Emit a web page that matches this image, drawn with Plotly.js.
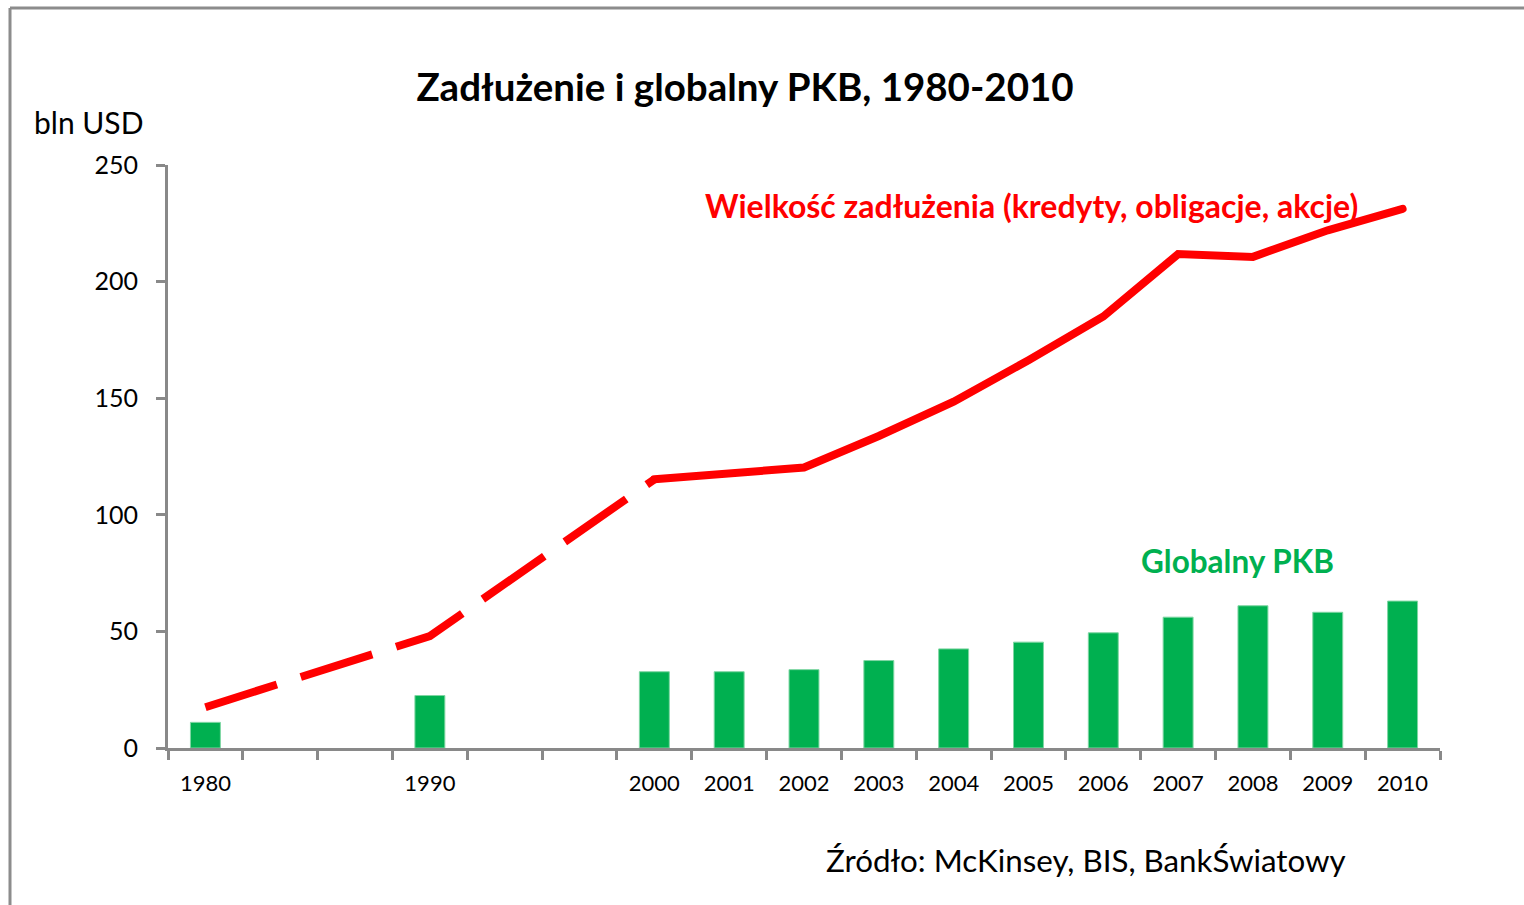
<!DOCTYPE html>
<html>
<head>
<meta charset="utf-8">
<script src="https://cdn.plot.ly/plotly-3.0.1.min.js"></script>
<style>
html, body { margin: 0; padding: 0; background: #fff; }
#chart { width: 1524px; height: 905px; }
</style>
</head>
<body>
<div id="chart"></div>
<script>
// Categories (blank slots keep the Excel spacing between 1980, 1990 and 2000)
var categories = ['1980', '', '', '1990', '', '', '2000', '2001', '2002', '2003', '2004', '2005', '2006', '2007', '2008', '2009', '2010'];
// Global GDP (bars), bln USD
var gdp = [11, null, null, 22.5, null, null, 32.7, 32.7, 33.6, 37.5, 42.5, 45.4, 49.4, 56.1, 61, 58.2, 63];
// Debt volume, dashed part (1980-2000)
var debtEarly = [17.5, null, null, 48, null, null, 115.2];
// Debt volume, solid part (2000-2010)
var debtLate = [null, null, null, null, null, null, 115.2, 117.8, 120.3, 133.8, 148.5, 166.3, 185, 211.8, 210.6, 222, 231.2];

var titleText = 'Zadłużenie i globalny PKB, 1980-2010';
var yUnit = 'bln USD';
var debtLabel = 'Wielkość zadłużenia (kredyty, obligacje, akcje)';
var gdpLabel = 'Globalny PKB';
var sourceText = 'Źródło: McKinsey, BIS, BankŚwiatowy';

var idx = categories.map(function (_, i) { return i; });
function pick(arr) {
  var xs = [], ys = [];
  arr.forEach(function (v, i) { if (v !== null) { xs.push(i); ys.push(v); } });
  return { x: xs, y: ys };
}
var g = pick(gdp), e = pick(debtEarly), l = pick(debtLate);

var FONT = 'Lato, "Open Sans", sans-serif';
var AX = '#898989';
var RED = '#FF0000';
var GREEN = '#00B050';

var traces = [
  { type: 'bar', x: g.x, y: g.y, width: 0.4, marker: { color: GREEN, line: { color: '#7fd6a3', width: 1 } }, hoverinfo: 'skip' },
  { type: 'scatter', mode: 'lines', x: e.x, y: e.y, line: { color: RED, width: 8, dash: '75px,25px' }, hoverinfo: 'skip' },
  { type: 'scatter', mode: 'lines', x: l.x, y: l.y, line: { color: RED, width: 8 }, hoverinfo: 'skip' }
];

var L = 168, R = 1440, T = 165, B = 748;
function px(p) { return (p - L) / (R - L); }
function py(p) { return (B - p) / (B - T); }

var boundaries = [];
for (var i = 0; i <= categories.length; i++) boundaries.push(i - 0.5);

var layout = {
  width: 1524, height: 905,
  margin: { l: L, r: 1524 - R, t: T, b: 905 - B, pad: 0 },
  paper_bgcolor: '#fff', plot_bgcolor: '#fff',
  showlegend: false,
  font: { family: FONT, color: '#000' },
  title: { text: '<b>' + titleText + '</b>', font: { family: FONT, size: 38.5, color: '#000' },
           x: 745 / 1524, xanchor: 'center', xref: 'container', y: 1 - 88 / 905, yanchor: 'middle', yref: 'container' },
  xaxis: {
    range: [-0.5, categories.length - 0.5],
    tickmode: 'array', tickvals: idx, ticktext: categories,
    ticks: '', showgrid: false, zeroline: false,
    showline: true, linecolor: AX, linewidth: 3,
    tickfont: { family: FONT, size: 22, color: '#000' },
    ticklabelstandoff: 14,
    minor: { tickmode: 'array', tickvals: boundaries, ticks: 'outside', ticklen: 9, tickwidth: 3, tickcolor: AX, showgrid: false }
  },
  yaxis: {
    range: [0, 250], tickmode: 'linear', tick0: 0, dtick: 50,
    ticks: 'outside', ticklen: 9, tickwidth: 3, tickcolor: AX,
    showline: true, linecolor: AX, linewidth: 3,
    showgrid: false, zeroline: false,
    tickfont: { family: FONT, size: 25, color: '#000' },
    ticklabelstandoff: 13
  },
  bargap: 0.6,
  annotations: [
    { text: yUnit, xref: 'paper', yref: 'paper', x: px(32), y: py(122), xanchor: 'left', yanchor: 'middle', showarrow: false,
      font: { family: FONT, size: 30, color: '#000' } },
    { text: '<b>' + debtLabel + '</b>', xref: 'paper', yref: 'paper', x: px(1031), y: py(205), xanchor: 'center', yanchor: 'middle', showarrow: false,
      font: { family: FONT, size: 32, color: RED } },
    { text: '<b>' + gdpLabel + '</b>', xref: 'paper', yref: 'paper', x: px(1237), y: py(561), xanchor: 'center', yanchor: 'middle', showarrow: false,
      font: { family: FONT, size: 31.5, color: GREEN } },
    { text: sourceText, xref: 'paper', yref: 'paper', x: px(1086), y: py(860), xanchor: 'center', yanchor: 'middle', showarrow: false,
      font: { family: FONT, size: 31.3, color: '#000' } }
  ],
  shapes: [
    { type: 'line', xref: 'paper', yref: 'paper', x0: px(10), x1: px(1530), y0: py(8), y1: py(8), line: { color: '#8c8c8c', width: 3 } },
    { type: 'line', xref: 'paper', yref: 'paper', x0: px(10), x1: px(10), y0: py(8), y1: py(910), line: { color: '#8c8c8c', width: 3 } }
  ]
};

Plotly.newPlot('chart', traces, layout, { staticPlot: true, displayModeBar: false }).then(function (gd) {
  var lines = gd.querySelectorAll('.scatterlayer .trace');
  if (lines.length) {
    var last = lines[lines.length - 1].querySelector('.js-line');
    if (last) last.style.strokeLinecap = 'round';
  }
});
</script>
</body>
</html>
